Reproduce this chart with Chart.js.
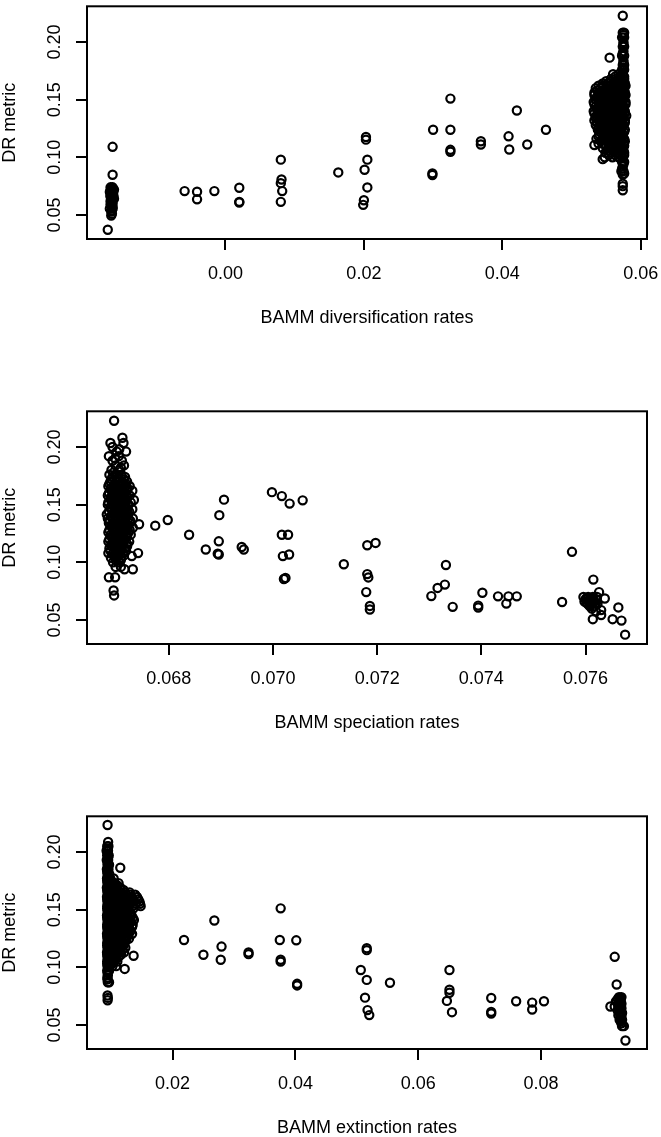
<!DOCTYPE html>
<html>
<head>
<meta charset="utf-8">
<script src="https://cdn.jsdelivr.net/npm/chart.js@4.4.0/dist/chart.umd.min.js"></script>
<style>
  html, body { margin: 0; padding: 0; background: #fff; overflow: hidden; }
  #wrap { width: 661px; height: 1137px; overflow: hidden; }
  canvas { display: block; }
</style>
</head>
<body>
<div id="wrap">
  <canvas id="divChart" width="661" height="405"></canvas>
  <canvas id="specChart" width="661" height="405"></canvas>
  <canvas id="extChart" width="661" height="405"></canvas>
</div>
<script>
// DR metric axis, same in the three panels
const drTicks = [0.05, 0.10, 0.15, 0.20];
const drRange = [0.0292, 0.2309];

const divTicks = [0.00, 0.02, 0.04, 0.06];
const divRange = [-0.0200, 0.0609];
const specTicks = [0.068, 0.070, 0.072, 0.074, 0.076];
const specRange = [0.06643, 0.07718];
const extTicks = [0.02, 0.04, 0.06, 0.08];
const extRange = [0.00606, 0.09726];

// scattered species: [rate, DR]
const divPoints = [
  [-0.0170, 0.0372], [-0.0163, 0.1091], [-0.0163, 0.0849],
  [-0.0059, 0.0707], [-0.0041, 0.0702], [-0.0041, 0.0636], [-0.0016, 0.0707],
  [0.0020, 0.0736], [0.0020, 0.0614], [0.0020, 0.0608],
  [0.0080, 0.0980], [0.0081, 0.0808], [0.0080, 0.0776], [0.0082, 0.0707], [0.0080, 0.0614],
  [0.0163, 0.0869],
  [0.0203, 0.1176], [0.0203, 0.1153], [0.0205, 0.0980], [0.0201, 0.0892], [0.0205, 0.0739],
  [0.0200, 0.0628], [0.0199, 0.0588],
  [0.0300, 0.1239], [0.0299, 0.0861], [0.0299, 0.0847],
  [0.0325, 0.1509], [0.0325, 0.1239], [0.0325, 0.1065], [0.0325, 0.1048],
  [0.0369, 0.1139], [0.0369, 0.1111],
  [0.0421, 0.1406], [0.0409, 0.1182], [0.0410, 0.1068], [0.0436, 0.1111], [0.0463, 0.1239],
  [0.0555, 0.1864]
];
// dense groups: [DR, rate, rate, ...]
const divCluster = [
  [0.0740, -0.0166, -0.0163], [0.0730, -0.0165], [0.0720, -0.0164, -0.0161],
  [0.0710, -0.0166], [0.0700, -0.0167, -0.0162], [0.0690, -0.0165],
  [0.0680, -0.0164], [0.0670, -0.0166, -0.0162], [0.0660, -0.0166, -0.0162],
  [0.0650, -0.0164], [0.0640, -0.0164, -0.0161], [0.0630, -0.0165],
  [0.0620, -0.0166], [0.0610, -0.0164], [0.0600, -0.0163], [0.0590, -0.0166],
  [0.0580, -0.0165], [0.0570, -0.0163], [0.0555, -0.0167, -0.0163],
  [0.0540, -0.0164], [0.0530, -0.0165], [0.0510, -0.0164], [0.0495, -0.0165],
  [0.2227, 0.0574],
  [0.2080, 0.0574, 0.0576], [0.2060, 0.0575], [0.2040, 0.0573, 0.0576], [0.2000, 0.0575],
  [0.1980, 0.0575], [0.1960, 0.0574, 0.0576], [0.1920, 0.0575], [0.1900, 0.0574],
  [0.1880, 0.0573, 0.0576], [0.1840, 0.0575], [0.1820, 0.0575], [0.1800, 0.0574, 0.0576],
  [0.1780, 0.0575], [0.1760, 0.0573, 0.0576],
  [0.1720, 0.0560, 0.0568, 0.0574],
  [0.1700, 0.0563, 0.0571, 0.0576],
  [0.1680, 0.0557, 0.0564, 0.0571, 0.0576],
  [0.1660, 0.0550, 0.0557, 0.0564, 0.0571, 0.0576],
  [0.1640, 0.0545, 0.0552, 0.0561, 0.0568, 0.0574, 0.0577],
  [0.1620, 0.0539, 0.0546, 0.0553, 0.0560, 0.0567, 0.0573, 0.0578],
  [0.1600, 0.0535, 0.0542, 0.0550, 0.0557, 0.0563, 0.0570, 0.0576],
  [0.1580, 0.0537, 0.0544, 0.0551, 0.0558, 0.0565, 0.0571, 0.0576],
  [0.1560, 0.0533, 0.0540, 0.0548, 0.0555, 0.0562, 0.0568, 0.0573, 0.0577],
  [0.1540, 0.0533, 0.0540, 0.0547, 0.0554, 0.0561, 0.0568, 0.0574, 0.0578],
  [0.1520, 0.0536, 0.0544, 0.0551, 0.0558, 0.0565, 0.0571, 0.0576],
  [0.1500, 0.0535, 0.0542, 0.0549, 0.0556, 0.0563, 0.0570, 0.0575],
  [0.1480, 0.0532, 0.0539, 0.0547, 0.0554, 0.0561, 0.0567, 0.0573, 0.0578],
  [0.1460, 0.0533, 0.0540, 0.0547, 0.0554, 0.0561, 0.0568, 0.0574, 0.0578],
  [0.1440, 0.0535, 0.0543, 0.0550, 0.0557, 0.0564, 0.0570, 0.0575],
  [0.1420, 0.0536, 0.0543, 0.0550, 0.0557, 0.0564, 0.0570, 0.0575],
  [0.1400, 0.0532, 0.0539, 0.0546, 0.0553, 0.0560, 0.0566, 0.0572, 0.0577],
  [0.1380, 0.0533, 0.0540, 0.0547, 0.0554, 0.0561, 0.0567, 0.0572, 0.0577],
  [0.1360, 0.0536, 0.0543, 0.0550, 0.0557, 0.0563, 0.0569, 0.0574, 0.0579],
  [0.1340, 0.0535, 0.0542, 0.0549, 0.0556, 0.0563, 0.0570, 0.0575],
  [0.1320, 0.0533, 0.0540, 0.0547, 0.0554, 0.0561, 0.0567, 0.0573, 0.0577],
  [0.1300, 0.0537, 0.0545, 0.0552, 0.0559, 0.0566, 0.0572, 0.0577],
  [0.1280, 0.0535, 0.0542, 0.0549, 0.0556, 0.0563, 0.0569, 0.0575],
  [0.1260, 0.0539, 0.0546, 0.0553, 0.0560, 0.0567, 0.0573],
  [0.1240, 0.0538, 0.0545, 0.0552, 0.0559, 0.0566, 0.0572, 0.0577],
  [0.1220, 0.0542, 0.0549, 0.0556, 0.0563, 0.0570, 0.0576],
  [0.1200, 0.0540, 0.0547, 0.0554, 0.0561, 0.0568, 0.0574],
  [0.1180, 0.0539, 0.0547, 0.0554, 0.0561, 0.0568, 0.0574],
  [0.1160, 0.0536, 0.0544, 0.0551, 0.0558, 0.0565, 0.0571, 0.0576],
  [0.1140, 0.0542, 0.0550, 0.0558, 0.0565, 0.0572, 0.0577],
  [0.1120, 0.0539, 0.0547, 0.0555, 0.0562, 0.0569, 0.0575],
  [0.1106, 0.0533],
  [0.1100, 0.0549, 0.0557, 0.0564, 0.0571, 0.0576],
  [0.1080, 0.0545, 0.0553, 0.0560, 0.0567, 0.0573],
  [0.1060, 0.0552, 0.0561, 0.0569, 0.0575],
  [0.1040, 0.0549, 0.0557, 0.0565, 0.0572, 0.0576],
  [0.1020, 0.0554, 0.0563, 0.0571, 0.0576],
  [0.1000, 0.0548, 0.0559, 0.0568, 0.0574], [0.0984, 0.0545],
  [0.0960, 0.0573, 0.0576], [0.0940, 0.0575], [0.0920, 0.0574], [0.0900, 0.0573],
  [0.0880, 0.0572, 0.0575], [0.0860, 0.0576],
  [0.0850, 0.0574], [0.0771, 0.0574], [0.0750, 0.0574], [0.0714, 0.0574]
];

const specPoints = [
  [0.06743, 0.1330], [0.06774, 0.1318], [0.06798, 0.1367], [0.06839, 0.1239],
  [0.06871, 0.1111], [0.06896, 0.1182], [0.06896, 0.1068], [0.06894, 0.1074],
  [0.06897, 0.1409], [0.06906, 0.1543], [0.06940, 0.1133], [0.06944, 0.1111],
  [0.06998, 0.1608], [0.07017, 0.1574], [0.07032, 0.1509], [0.07057, 0.1537],
  [0.07017, 0.1239], [0.07029, 0.1239], [0.07019, 0.1054], [0.07031, 0.1068],
  [0.07021, 0.0855], [0.07024, 0.0864],
  [0.07136, 0.0983], [0.07181, 0.0898], [0.07183, 0.0869], [0.07179, 0.0742],
  [0.07186, 0.0622], [0.07186, 0.0591], [0.07181, 0.1148], [0.07197, 0.1168],
  [0.07304, 0.0707], [0.07316, 0.0778], [0.07330, 0.0807], [0.07332, 0.0977],
  [0.07345, 0.0614], [0.07394, 0.0608], [0.07394, 0.0625], [0.07402, 0.0736],
  [0.07432, 0.0705], [0.07448, 0.0642], [0.07452, 0.0705], [0.07468, 0.0705],
  [0.07555, 0.0656], [0.07574, 0.1091],
  [0.07615, 0.0850], [0.07626, 0.0742], [0.07637, 0.0686], [0.07614, 0.0507],
  [0.07630, 0.0586], [0.07630, 0.0543], [0.07652, 0.0507], [0.07663, 0.0609],
  [0.07669, 0.0495], [0.07676, 0.0373]
];
const specCluster = [
  [0.0700, 0.07596, 0.07605, 0.07614, 0.07622], [0.0690, 0.07602, 0.07611],
  [0.0680, 0.07600, 0.07610, 0.07620], [0.0670, 0.07605, 0.07615],
  [0.0660, 0.07598, 0.07607, 0.07617], [0.0650, 0.07602, 0.07611, 0.07620],
  [0.0640, 0.07604, 0.07613, 0.07623], [0.0630, 0.07609],
  [0.0620, 0.07608, 0.07618], [0.0600, 0.07612], [0.0575, 0.07620],
  [0.2227, 0.06695], [0.2080, 0.06711], [0.2034, 0.06713, 0.06688], [0.2000, 0.06692],
  [0.1980, 0.06705], [0.1960, 0.06718, 0.06700], [0.1920, 0.06685, 0.06704],
  [0.1900, 0.06697], [0.1880, 0.06692, 0.06710], [0.1840, 0.06698, 0.06714],
  [0.1820, 0.06708], [0.1800, 0.06690, 0.06705], [0.1780, 0.06694],
  [0.1760, 0.06686, 0.06697, 0.06709], [0.1740, 0.06692, 0.06704, 0.06716],
  [0.1720, 0.06690, 0.06702, 0.06714], [0.1700, 0.06688, 0.06699, 0.06710, 0.06720],
  [0.1680, 0.06686, 0.06696, 0.06707, 0.06718],
  [0.1660, 0.06684, 0.06694, 0.06705, 0.06716, 0.06725],
  [0.1640, 0.06689, 0.06700, 0.06711, 0.06721],
  [0.1620, 0.06690, 0.06700, 0.06710, 0.06720, 0.06730],
  [0.1600, 0.06685, 0.06695, 0.06705, 0.06715],
  [0.1580, 0.06683, 0.06693, 0.06704, 0.06715, 0.06725],
  [0.1560, 0.06688, 0.06699, 0.06710, 0.06720],
  [0.1540, 0.06689, 0.06699, 0.06709, 0.06719, 0.06733],
  [0.1520, 0.06684, 0.06694, 0.06704, 0.06714, 0.06727],
  [0.1500, 0.06683, 0.06693, 0.06703, 0.06713, 0.06723],
  [0.1480, 0.06688, 0.06698, 0.06708, 0.06718],
  [0.1460, 0.06690, 0.06700, 0.06710, 0.06720, 0.06730],
  [0.1440, 0.06685, 0.06695, 0.06705, 0.06715, 0.06724],
  [0.1420, 0.06694, 0.06704, 0.06714, 0.06722], [0.1415, 0.06681],
  [0.1400, 0.06689, 0.06699, 0.06709, 0.06719],
  [0.1380, 0.06683, 0.06692, 0.06702, 0.06712, 0.06722, 0.06731],
  [0.1360, 0.06686, 0.06696, 0.06706, 0.06716, 0.06726],
  [0.1340, 0.06685, 0.06695, 0.06705, 0.06715, 0.06725],
  [0.1320, 0.06690, 0.06700, 0.06710, 0.06720],
  [0.1300, 0.06691, 0.06701, 0.06711, 0.06721, 0.06731],
  [0.1280, 0.06686, 0.06696, 0.06706, 0.06716, 0.06725],
  [0.1260, 0.06684, 0.06694, 0.06704, 0.06714, 0.06723],
  [0.1240, 0.06689, 0.06699, 0.06709, 0.06719, 0.06727],
  [0.1220, 0.06690, 0.06700, 0.06710, 0.06720],
  [0.1200, 0.06686, 0.06696, 0.06706, 0.06716],
  [0.1180, 0.06684, 0.06694, 0.06704, 0.06714, 0.06724],
  [0.1160, 0.06690, 0.06700, 0.06710, 0.06720],
  [0.1140, 0.06690, 0.06700, 0.06710, 0.06720],
  [0.1120, 0.06686, 0.06696, 0.06706, 0.06716],
  [0.1100, 0.06688, 0.06698, 0.06708, 0.06718],
  [0.1080, 0.06684, 0.06693, 0.06703, 0.06713, 0.06741],
  [0.1060, 0.06694, 0.06704, 0.06714], [0.1054, 0.06729],
  [0.1040, 0.06689, 0.06699, 0.06709], [0.1020, 0.06698, 0.06708],
  [0.1000, 0.06693, 0.06704],
  [0.0960, 0.06698, 0.06708], [0.0940, 0.06715, 0.06731],
  [0.0870, 0.06685, 0.06697], [0.0756, 0.06694], [0.0713, 0.06695]
];

const extPoints = [
  [0.01148, 0.1863], [0.01365, 0.1100], [0.01220, 0.0986],
  [0.02186, 0.1237], [0.02502, 0.1109], [0.02680, 0.1406], [0.02797, 0.1180], [0.02784, 0.1066],
  [0.03237, 0.1129], [0.03237, 0.1114],
  [0.03760, 0.1511], [0.03746, 0.1237], [0.03760, 0.1066], [0.03760, 0.1049],
  [0.04014, 0.1234], [0.04028, 0.0857], [0.04028, 0.0843],
  [0.05065, 0.0977], [0.05162, 0.1166], [0.05162, 0.1149], [0.05162, 0.0891],
  [0.05134, 0.0737], [0.05175, 0.0629], [0.05203, 0.0586], [0.05540, 0.0866],
  [0.06509, 0.0977], [0.06509, 0.0806], [0.06509, 0.0780], [0.06467, 0.0709], [0.06550, 0.0611],
  [0.07189, 0.0734], [0.07189, 0.0614], [0.07189, 0.0600],
  [0.07595, 0.0706], [0.07856, 0.0694], [0.07856, 0.0634], [0.08048, 0.0706],
  [0.09200, 0.1091], [0.09232, 0.0851], [0.09375, 0.0366]
];
const extCluster = [
  [0.0742, 0.0927, 0.0931], [0.0735, 0.0929], [0.0725, 0.0925, 0.0930], [0.0715, 0.0928],
  [0.0705, 0.0922, 0.0928], [0.0695, 0.0930], [0.0685, 0.0926, 0.0931],
  [0.0660, 0.0913, 0.0920, 0.0926], [0.0655, 0.0930], [0.0645, 0.0927, 0.0931],
  [0.0635, 0.0929], [0.0625, 0.0925], [0.0615, 0.0930], [0.0605, 0.0928, 0.0932],
  [0.0595, 0.0930], [0.0585, 0.0926], [0.0575, 0.0931], [0.0565, 0.0929],
  [0.0545, 0.0928, 0.0932], [0.0530, 0.0930], [0.0515, 0.0931], [0.0490, 0.0932, 0.0935],
  [0.2234, 0.00941], [0.2086, 0.00950], [0.2050, 0.00955, 0.00935], [0.2030, 0.00945],
  [0.2010, 0.00925, 0.00948], [0.1990, 0.00938], [0.1970, 0.00935, 0.00960], [0.1950, 0.00950],
  [0.1930, 0.00928, 0.00950], [0.1910, 0.00942], [0.1890, 0.00940, 0.00965], [0.1870, 0.00950],
  [0.1850, 0.00930, 0.00955], [0.1830, 0.00935], [0.1810, 0.00940, 0.00968], [0.1790, 0.00945],
  [0.1770, 0.00932, 0.00955, 0.00985, 0.01040],
  [0.1750, 0.00935, 0.00965, 0.01000],
  [0.1730, 0.00940, 0.00965, 0.01000, 0.01060, 0.01120],
  [0.1710, 0.00945, 0.00975, 0.01010, 0.01050, 0.01100],
  [0.1690, 0.00930, 0.00958, 0.00990, 0.01030, 0.01080, 0.01150],
  [0.1670, 0.00935, 0.00965, 0.01000, 0.01040, 0.01090, 0.01150, 0.01200],
  [0.1650, 0.00940, 0.00970, 0.01005, 0.01045, 0.01095, 0.01160, 0.01230, 0.01300],
  [0.1630, 0.00945, 0.00980, 0.01020, 0.01065, 0.01115, 0.01175, 0.01240, 0.01310, 0.01390],
  [0.1610, 0.00932, 0.00960, 0.00995, 0.01035, 0.01080, 0.01130, 0.01190, 0.01250, 0.01330, 0.01420],
  [0.1590, 0.00935, 0.00965, 0.01000, 0.01045, 0.01095, 0.01150, 0.01210, 0.01280, 0.01360, 0.01440],
  [0.1570, 0.00940, 0.00970, 0.01005, 0.01050, 0.01100, 0.01160, 0.01220, 0.01290, 0.01370, 0.01460],
  [0.1550, 0.00945, 0.00980, 0.01020, 0.01065, 0.01120, 0.01180, 0.01240, 0.01310, 0.01400, 0.01470],
  [0.1530, 0.00935, 0.00962, 0.00998, 0.01040, 0.01090, 0.01145, 0.01205, 0.01270, 0.01350, 0.01480],
  [0.1510, 0.00935, 0.00965, 0.01000, 0.01045, 0.01095, 0.01150, 0.01210, 0.01280, 0.01360],
  [0.1490, 0.00940, 0.00970, 0.01010, 0.01055, 0.01105, 0.01160, 0.01220, 0.01290],
  [0.1470, 0.00945, 0.00980, 0.01020, 0.01070, 0.01120, 0.01180, 0.01240, 0.01310],
  [0.1450, 0.00932, 0.00962, 0.00998, 0.01040, 0.01090, 0.01140, 0.01200, 0.01260, 0.01330],
  [0.1430, 0.00935, 0.00965, 0.01000, 0.01045, 0.01095, 0.01150, 0.01210, 0.01280, 0.01350],
  [0.1410, 0.00940, 0.00970, 0.01010, 0.01055, 0.01105, 0.01160, 0.01220, 0.01300, 0.01370],
  [0.1390, 0.00945, 0.00980, 0.01020, 0.01070, 0.01120, 0.01180, 0.01250, 0.01320],
  [0.1370, 0.00935, 0.00965, 0.01000, 0.01045, 0.01095, 0.01150, 0.01210, 0.01280, 0.01350],
  [0.1350, 0.00935, 0.00965, 0.01000, 0.01045, 0.01095, 0.01150, 0.01215, 0.01280, 0.01340],
  [0.1330, 0.00940, 0.00970, 0.01010, 0.01055, 0.01105, 0.01160, 0.01225, 0.01300],
  [0.1310, 0.00945, 0.00980, 0.01020, 0.01070, 0.01120, 0.01180, 0.01250, 0.01310],
  [0.1290, 0.00932, 0.00962, 0.00998, 0.01040, 0.01090, 0.01145, 0.01210, 0.01280, 0.01340],
  [0.1270, 0.00935, 0.00965, 0.01000, 0.01045, 0.01095, 0.01150, 0.01215, 0.01270],
  [0.1250, 0.00940, 0.00970, 0.01010, 0.01055, 0.01105, 0.01160, 0.01225, 0.01290],
  [0.1230, 0.00945, 0.00980, 0.01020, 0.01070, 0.01120, 0.01180, 0.01240],
  [0.1210, 0.00935, 0.00965, 0.01000, 0.01045, 0.01095, 0.01150, 0.01210],
  [0.1190, 0.00935, 0.00965, 0.01000, 0.01045, 0.01095, 0.01150, 0.01200],
  [0.1170, 0.00940, 0.00970, 0.01010, 0.01055, 0.01105, 0.01160, 0.01230],
  [0.1150, 0.00945, 0.00980, 0.01020, 0.01070, 0.01120, 0.01180],
  [0.1130, 0.00932, 0.00962, 0.01000, 0.01045, 0.01095, 0.01150, 0.01210],
  [0.1110, 0.00935, 0.00965, 0.01005, 0.01050, 0.01100, 0.01160],
  [0.1090, 0.00940, 0.00972, 0.01015, 0.01065, 0.01120],
  [0.1070, 0.00945, 0.00980, 0.01025, 0.01075],
  [0.1050, 0.00935, 0.00965, 0.01005, 0.01050, 0.01100],
  [0.1030, 0.00935, 0.00965, 0.01010],
  [0.1010, 0.00940, 0.00975, 0.01020, 0.01080],
  [0.0970, 0.00935, 0.00965], [0.0950, 0.00942], [0.0930, 0.00945], [0.0910, 0.00938],
  [0.0895, 0.00940], [0.0871, 0.00945, 0.00965], [0.0756, 0.00940], [0.0735, 0.00945],
  [0.0714, 0.00942]
];

function toXY(points, rows) {
  const out = points.map(p => ({ x: p[0], y: p[1] }));
  rows.forEach(r => r.slice(1).forEach(x => out.push({ x: x, y: r[0] })));
  return out;
}

const font = { family: "'Liberation Sans', Arial, sans-serif", size: 18 };

// closed frame round the plot region
const boxPlugin = {
  id: 'box',
  beforeDatasetsDraw(chart) {
    const a = chart.chartArea, ctx = chart.ctx;
    ctx.save();
    ctx.lineWidth = 2;
    ctx.strokeStyle = '#000';
    ctx.strokeRect(a.left, a.top, a.right - a.left, a.bottom - a.top);
    ctx.restore();
  }
};

function drawPanel(id, data, xTitle, xTicks, xRange, digits) {
  new Chart(document.getElementById(id), {
    type: 'scatter',
    data: {
      datasets: [{
        data: data,
        pointRadius: 4.1,
        pointHoverRadius: 4.1,
        pointBorderWidth: 2.2,
        pointBorderColor: '#000',
        pointBackgroundColor: 'rgba(0,0,0,0)'
      }]
    },
    options: {
      responsive: false,
      animation: false,
      events: [],
      layout: { padding: { top: 3.5, right: 14, bottom: 0, left: 0 } },
      plugins: { legend: { display: false }, tooltip: { enabled: false } },
      scales: {
        x: {
          type: 'linear', min: xRange[0], max: xRange[1], bounds: 'data',
          afterBuildTicks: s => { s.ticks = xTicks.map(v => ({ value: v })); },
          afterFit: s => { s.height = 166; s.paddingLeft = 0; s.paddingRight = 0; },
          grid: { drawOnChartArea: false, tickLength: 11, lineWidth: 2, color: '#000' },
          border: { display: false },
          ticks: { color: '#000', font: font, padding: 13, maxRotation: 0, autoSkip: false,
                   callback: v => v.toFixed(digits) },
          title: { display: true, text: xTitle, color: '#000', font: font, padding: { top: 0, bottom: 76 } }
        },
        y: {
          type: 'linear', min: drRange[0], max: drRange[1], bounds: 'data',
          afterBuildTicks: s => { s.ticks = drTicks.map(v => ({ value: v })); },
          afterFit: s => { s.width = 87; s.paddingTop = 0; s.paddingBottom = 0; },
          grid: { drawOnChartArea: false, tickLength: 11, lineWidth: 2, color: '#000' },
          border: { display: false },
          ticks: { color: '#000', font: font, padding: 3.5, minRotation: 90, maxRotation: 90,
                   crossAlign: 'center', autoSkip: false, callback: v => v.toFixed(2) },
          title: { display: true, text: 'DR metric', color: '#000', font: font, padding: { top: -1, bottom: 0 } }
        }
      }
    },
    plugins: [boxPlugin]
  });
}

drawPanel('divChart', toXY(divPoints, divCluster), 'BAMM diversification rates', divTicks, divRange, 2);
drawPanel('specChart', toXY(specPoints, specCluster), 'BAMM speciation rates', specTicks, specRange, 3);
drawPanel('extChart', toXY(extPoints, extCluster), 'BAMM extinction rates', extTicks, extRange, 2);
</script>
</body>
</html>
